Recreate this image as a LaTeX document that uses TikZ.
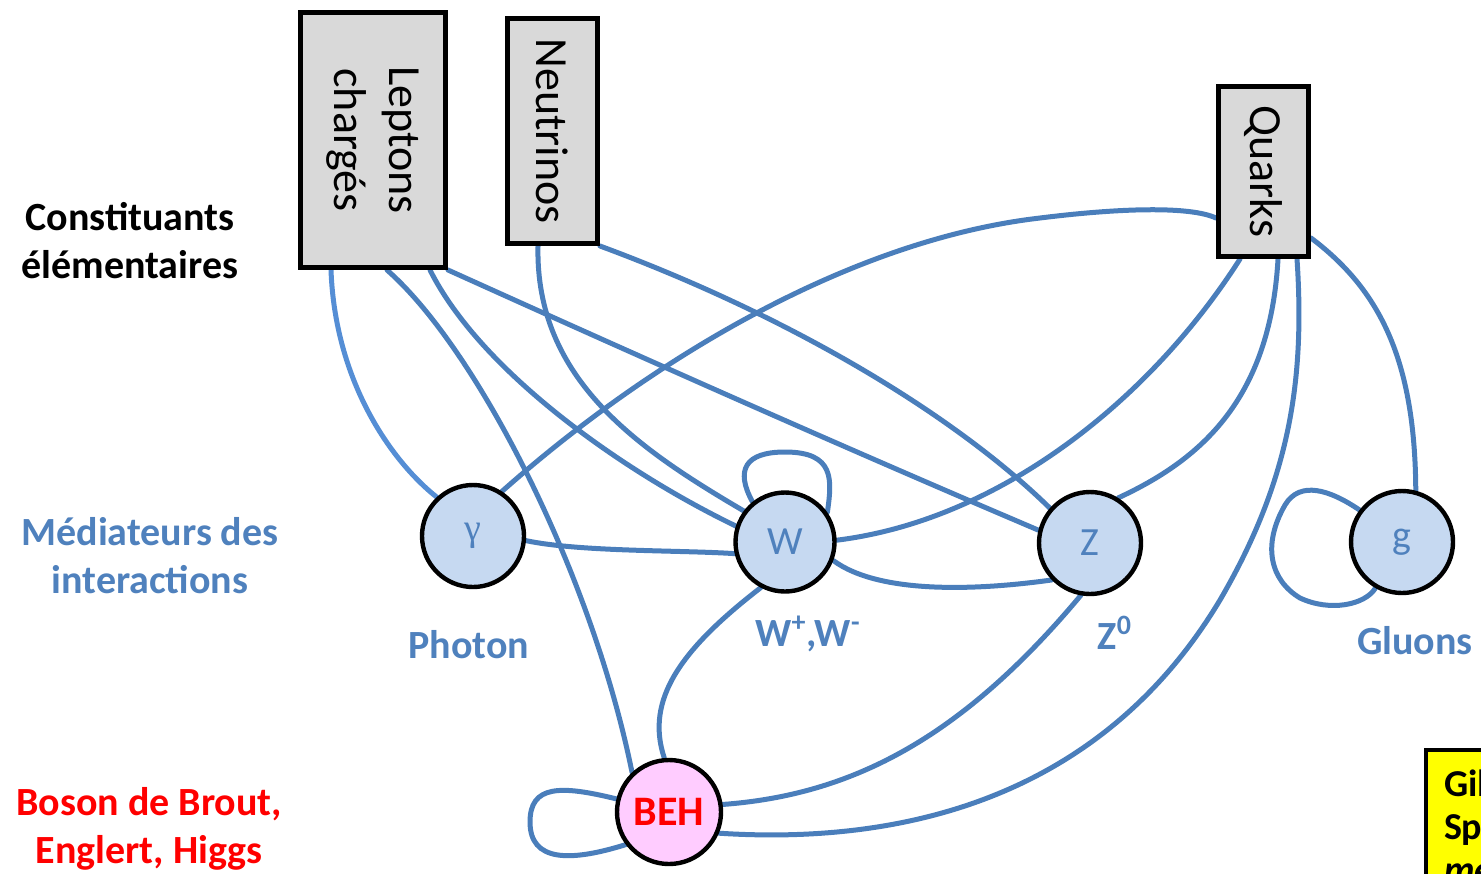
\documentclass[tikz,border=0pt]{standalone}
\usepackage{fontspec}
\usepackage{graphicx}
\setmainfont{Carlito}
\newfontfamily\greekfont{Liberation Serif}
\usetikzlibrary{calc}
\pgfdeclarelayer{bg}
\pgfsetlayers{bg,main}
\definecolor{edge}{RGB}{74,126,187}
\definecolor{edgelight}{RGB}{85,142,213}
\definecolor{medblue}{RGB}{198,217,241}
\definecolor{behpink}{RGB}{255,204,255}
\definecolor{boxgray}{RGB}{217,217,217}
\definecolor{labblue}{RGB}{79,129,189}
\definecolor{noteyellow}{RGB}{255,255,0}
\begin{document}
\begin{tikzpicture}[x=0.5pt,y=-0.5pt,
  partbox/.style={draw=black, line width=2.5pt, fill=boxgray, inner sep=0pt,
    font=\fontsize{23}{27.5}\selectfont},
  med/.style={circle, draw=black, line width=2.2pt, fill=medblue, minimum size=51pt,
    inner sep=0pt, text=labblue, font=\fontsize{20}{22}\selectfont},
  link/.style={draw=edge, line width=2.5pt, line cap=round},
  lab/.style={font=\bfseries\fontsize{20}{24}\selectfont, align=center},
  notebox/.style={draw=black, line width=2pt, fill=noteyellow, anchor=north west,
    inner xsep=9pt, inner ysep=10pt, align=left, text width=80pt,
    font=\bfseries\fontsize{19}{21.5}\selectfont},
]
\useasboundingbox (0,0) rectangle (1481,873);

% element boxes
\node[partbox, minimum width=72.5pt, minimum height=127.5pt] (L) at (373,140)
  {\rotatebox{-90}{\begin{tabular}{@{}c@{}}Leptons\\chargés\end{tabular}}};
\node[partbox, minimum width=45pt, minimum height=112.5pt] (N) at (552.5,131)
  {\rotatebox{-90}{Neutrinos}};
\node[partbox, minimum width=45pt, minimum height=85pt] (Q) at (1263.5,171.5)
  {\rotatebox{-90}{Quarks}};

% mediators
\node[med] (ga) at (473,536) {\greekfont\fontsize{19}{20}\selectfont γ};
\node[med, minimum size=49.5pt] (W) at (785,542) {W};
\node[med] (Z) at (1090,543) {Z};
\node[med] (g) at (1402,542) {g};
\node[med, minimum size=52pt, fill=behpink, text=red, font=\bfseries\fontsize{21}{22}\selectfont] (B) at (669,812) {BEH};

% left labels
\node[lab] (c1) at (130,241) {Constituants\\élémentaires};
\node[lab, text=labblue] (m1) at (150,556) {Médiateurs des\\interactions};
\node[lab, text=red] (b1) at (149,829) {Boson de Brout,\\Englert, Higgs};

% mediator labels
\node[lab, text=labblue] (pl) at (469,645) {Photon};
\node[lab, text=labblue] (wl) at (808,634) {W\textsuperscript{+},W\textsuperscript{-}};
\node[lab, text=labblue] (zl) at (1115,633) {Z\textsuperscript{0}};
\node[lab, text=labblue] (gl) at (1415,641) {Gluons};

% note box (cut by the picture border)
\node[notebox] (note) at (1424,748) {Gil\\Sp\\\textit{me}};

\begin{pgfonlayer}{bg}
% leptons
\draw[link, draw=edgelight] ($(L.south west)+(33,0)$) .. controls (335,380) and (390,460) .. (ga.133);
\draw[link] ($(L.south west)+(89,0)$) .. controls (478,350) and (592,575) .. (B.133);
\draw[link] ($(L.south west)+(132,0)$) .. controls (480,370) and (620,470) .. (W.162);
\draw[link] (L.south east) .. controls (645,359) and (843,447) .. (Z.166);
% neutrinos
\draw[link] ($(N.south west)+(33,0)$) .. controls (535,380) and (640,450) .. (W.143);
\draw[link] (N.south east) .. controls (800,320) and (960,420) .. (Z.139);
% quarks
\draw[link] ($(Q.south west)+(0,-41)$) .. controls (1190,206) and (1120,208) .. (1040,218)
  .. controls (850,240) and (650,360) .. (ga.57);
\draw[link] ($(Q.south west)+(24,0)$) .. controls (1150,400) and (1000,520) .. (W.2);
\draw[link] ($(Q.south west)+(62,0)$) .. controls (1270,400) and (1200,460) .. (Z.58);
\draw[link] ($(Q.south west)+(81,0)$) .. controls (1305,380) and (1290,480) .. (1220,600)
  .. controls (1100,800) and (900,845) .. (B.-23);
\draw[link] ($(Q.south east)+(0,-21)$) .. controls (1380,290) and (1415,360) .. (g.75);
% mediators among themselves
\draw[link] (ga.-5) .. controls (580,552) and (680,550) .. (W.193);
\draw[link] (W.-21) .. controls (880,595) and (980,590) .. (Z.224);
\draw[link] (W.-118) .. controls (680,650) and (645,700) .. (B.95);
\draw[link] (Z.-100) .. controls (960,740) and (850,795) .. (B.8);
% self loops
\draw[link] (W.129) .. controls (735,470) and (745,452) .. (785,452)
  .. controls (835,452) and (832,480) .. (W.35);
\draw[link] (g.143) .. controls (1330,490) and (1300,480) .. (1285,505)
  .. controls (1262,545) and (1270,580) .. (1300,598)
  .. controls (1330,612) and (1365,605) .. (g.240);
\draw[link] (B.166) .. controls (560,785) and (530,785) .. (530,822)
  .. controls (530,862) and (570,862) .. (B.217);
\end{pgfonlayer}
\end{tikzpicture}
\end{document}
